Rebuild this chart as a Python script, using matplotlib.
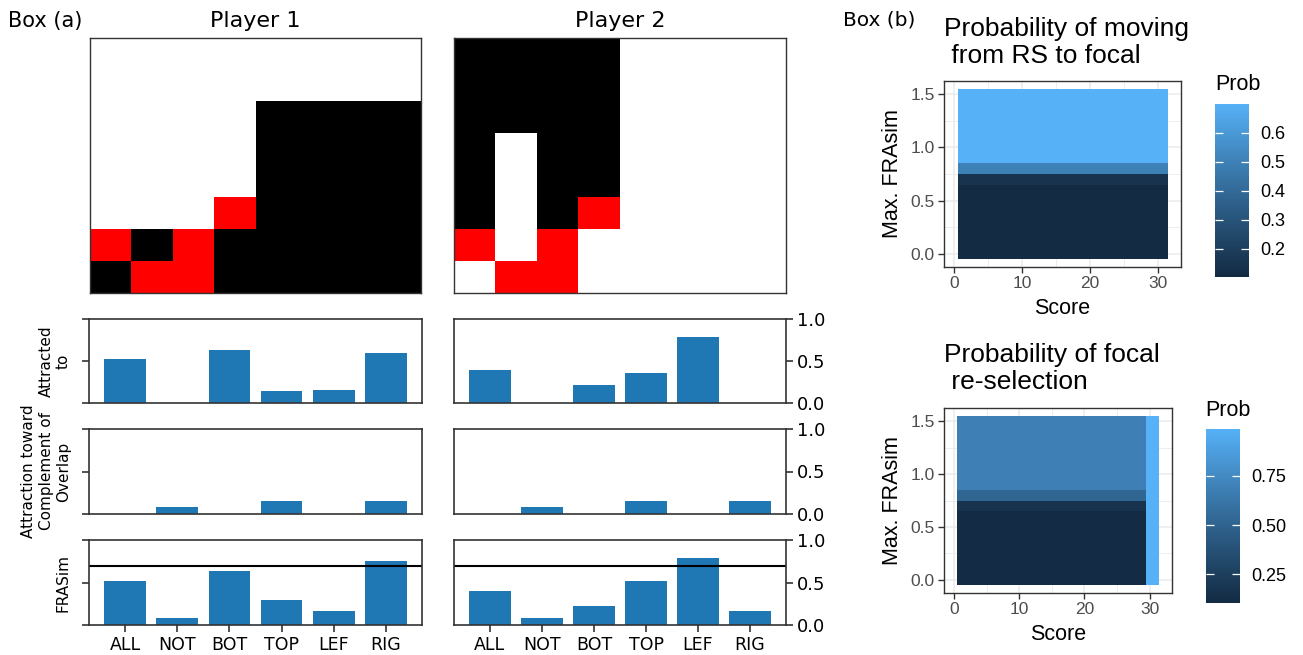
import numpy as np
import matplotlib
matplotlib.use("Agg")
import matplotlib.pyplot as plt
from matplotlib.colors import ListedColormap, Normalize
from matplotlib.cm import ScalarMappable

# ---------------- data ----------------
# grids: 0 = white, 1 = black, 2 = red (rows top to bottom)
grid_p1 = [
    [0, 0, 0, 0, 0, 0, 0, 0],
    [0, 0, 0, 0, 0, 0, 0, 0],
    [0, 0, 0, 0, 1, 1, 1, 1],
    [0, 0, 0, 0, 1, 1, 1, 1],
    [0, 0, 0, 0, 1, 1, 1, 1],
    [0, 0, 0, 2, 1, 1, 1, 1],
    [2, 1, 2, 1, 1, 1, 1, 1],
    [1, 2, 2, 1, 1, 1, 1, 1],
]
grid_p2 = [
    [1, 1, 1, 1, 0, 0, 0, 0],
    [1, 1, 1, 1, 0, 0, 0, 0],
    [1, 1, 1, 1, 0, 0, 0, 0],
    [1, 0, 1, 1, 0, 0, 0, 0],
    [1, 0, 1, 1, 0, 0, 0, 0],
    [1, 0, 1, 2, 0, 0, 0, 0],
    [2, 0, 2, 0, 0, 0, 0, 0],
    [0, 2, 2, 0, 0, 0, 0, 0],
]

categories = ['ALL', 'NOT', 'BOT', 'TOP', 'LEF', 'RIG']
p1_attracted = [0.52, 0.0, 0.63, 0.14, 0.16, 0.59]
p1_complement = [0.0, 0.08, 0.0, 0.155, 0.0, 0.155]
p1_frasim = [0.52, 0.08, 0.635, 0.30, 0.163, 0.754]
p2_attracted = [0.39, 0.0, 0.214, 0.36, 0.786, 0.0]
p2_complement = [0.0, 0.08, 0.0, 0.155, 0.0, 0.155]
p2_frasim = [0.397, 0.08, 0.218, 0.52, 0.79, 0.159]
frasim_threshold = 0.69

scores = [1, 2, 3, 4, 5, 6, 7, 8, 9, 10, 11, 12, 13, 14, 15, 16,
          17, 18, 19, 20, 21, 22, 23, 24, 25, 26, 27, 28, 29, 30, 31]
max_frasim = [0.0, 0.1, 0.2, 0.3, 0.4, 0.5, 0.6, 0.7, 0.8, 0.9,
              1.0, 1.1, 1.2, 1.3, 1.4, 1.5]
# probability by Max. FRAsim row (same for every score)
prob_move = [0.10, 0.10, 0.10, 0.10, 0.10, 0.10, 0.10, 0.145, 0.50,
             0.70, 0.70, 0.70, 0.70, 0.70, 0.70, 0.70]
prob_move_range = (0.102, 0.699)
# focal re-selection: rows for scores 1..29, high value for scores 30, 31
prob_resel = [0.11, 0.11, 0.11, 0.11, 0.11, 0.11, 0.11, 0.165, 0.52,
              0.69, 0.69, 0.69, 0.69, 0.69, 0.69, 0.69]
resel_high_scores = [30, 31]
resel_high_value = 0.988
prob_resel_range = (0.104, 0.988)

# ---------------- helpers ----------------
W, H = 1303, 655
fig = plt.figure(figsize=(W / 100, H / 100), dpi=100)


def add_ax(x0, y0, x1, y1):
    return fig.add_axes([x0 / W, 1 - y1 / H, (x1 - x0) / W, (y1 - y0) / H])


def srgb_to_lab(rgb):
    rgb = np.asarray(rgb, float)
    lin = np.where(rgb <= 0.04045, rgb / 12.92, ((rgb + 0.055) / 1.055) ** 2.4)
    M = np.array([[0.4124564, 0.3575761, 0.1804375],
                  [0.2126729, 0.7151522, 0.0721750],
                  [0.0193339, 0.1191920, 0.9503041]])
    xyz = lin @ M.T / np.array([0.95047, 1.0, 1.08883])
    f = np.where(xyz > 0.008856, np.cbrt(xyz), 7.787 * xyz + 16 / 116)
    return np.stack([116 * f[..., 1] - 16, 500 * (f[..., 0] - f[..., 1]),
                     200 * (f[..., 1] - f[..., 2])], axis=-1)


def lab_to_srgb(lab):
    L, a, b = lab[..., 0], lab[..., 1], lab[..., 2]
    fy = (L + 16) / 116
    fx = fy + a / 500
    fz = fy - b / 200
    f = np.stack([fx, fy, fz], axis=-1)
    xyz = np.where(f ** 3 > 0.008856, f ** 3, (f - 16 / 116) / 7.787)
    xyz = xyz * np.array([0.95047, 1.0, 1.08883])
    Minv = np.array([[3.2404542, -1.5371385, -0.4985314],
                     [-0.9692660, 1.8760108, 0.0415560],
                     [0.0556434, -0.2040259, 1.0572252]])
    lin = xyz @ Minv.T
    lin = np.clip(lin, 0, 1)
    rgb = np.where(lin <= 0.0031308, 12.92 * lin, 1.055 * lin ** (1 / 2.4) - 0.055)
    return np.clip(rgb, 0, 1)


lo = srgb_to_lab(np.array([0x13, 0x2B, 0x43]) / 255)
hi = srgb_to_lab(np.array([0x56, 0xB1, 0xF7]) / 255)
tt = np.linspace(0, 1, 256)[:, None]
gg_cmap = ListedColormap(lab_to_srgb(lo + (hi - lo) * tt))

# ---------------- Box (a) ----------------
grid_cmap = ListedColormap(['white', 'black', 'red'])
dv = 'DejaVu Sans'
fig.text(8 / W, 1 - 26.7 / H, 'Box (a)', fontsize=15, family=dv, va='baseline', ha='left')

for gx0, gx1, grid, title in [(90, 421, grid_p1, 'Player 1'), (454, 786, grid_p2, 'Player 2')]:
    ax = add_ax(gx0, 38, gx1, 293)
    ax.imshow(np.array(grid), cmap=grid_cmap, vmin=0, vmax=2, aspect='auto',
              interpolation='nearest')
    ax.set_xticks([])
    ax.set_yticks([])
    for s in ax.spines.values():
        s.set_linewidth(1.0)
        s.set_color('#333333')
    fig.text((gx0 + gx1) / 2 / W, 1 - 27.3 / H, title, fontsize=16, family=dv,
             ha='center', va='baseline')

rows = [(319, 403), (429, 514), (540, 625)]
ylabels = ['Attracted\nto', 'Attraction toward\nComplement of\nOverlap', 'FRASim']
series = {
    'p1': [p1_attracted, p1_complement, p1_frasim],
    'p2': [p2_attracted, p2_complement, p2_frasim],
}
xpos = np.arange(len(categories))
for player, (bx0, bx1) in [('p1', (89, 422)), ('p2', (454, 786))]:
    for i, (ry0, ry1) in enumerate(rows):
        ax = add_ax(bx0, ry0, bx1, ry1)
        ax.bar(xpos, series[player][i], width=0.8, color='#1f77b4')
        ax.set_xlim(-0.69, 5.69)
        ax.set_ylim(0, 1.0)
        ax.set_yticks([0, 0.5, 1.0])
        for s in ax.spines.values():
            s.set_linewidth(1.2)
            s.set_color('#333333')
        if i == 2:
            ax.axhline(frasim_threshold, color='black', lw=1.5)
            ax.set_xticks(xpos)
            ax.set_xticklabels(categories, fontsize=12.5, family=dv)
            ax.tick_params(axis='x', length=5, width=1.2, color='#333333', pad=3)
        else:
            ax.set_xticks([])
        if player == 'p1':
            ax.tick_params(axis='y', labelleft=False, length=5, width=1.2,
                           color='#333333')
            ax.set_ylabel(ylabels[i], fontsize=11, family=dv, labelpad=8)
        else:
            ax.yaxis.tick_right()
            ax.tick_params(axis='y', length=5, width=1.2, color='#333333',
                           labelsize=13, pad=3)
            ax.set_yticklabels(['0.0', '0.5', '1.0'])

# ---------------- Box (b) ----------------
lib = 'Liberation Sans'
fig.text(843 / W, 1 - 26 / H, 'Box (b)', fontsize=14.5, family=dv, va='baseline', ha='left')

sc = np.array(scores, float)
fr = np.array(max_frasim, float)
x_edges = np.concatenate([sc - 0.5, [sc[-1] + 0.5]])
y_edges = np.concatenate([fr - 0.05, [fr[-1] + 0.05]])

Z_move = np.repeat(np.array(prob_move)[:, None], len(scores), axis=1)
Z_resel = np.repeat(np.array(prob_resel)[:, None], len(scores), axis=1)
for s_hi in resel_high_scores:
    Z_resel[:, scores.index(s_hi)] = resel_high_value

panels = [
    dict(box=(944, 81, 1181, 267), Z=Z_move, rng=prob_move_range,
         title='Probability of moving\n from RS to focal', title_base=36,
         cbar=(1215, 104, 1249, 277), cticks=[0.2, 0.3, 0.4, 0.5, 0.6], cfmt='%.1f',
         prob_y=85, prob_x=1215, xlab_y=308),
    dict(box=(944, 408, 1172, 593), Z=Z_resel, rng=prob_resel_range,
         title='Probability of focal\n re-selection', title_base=362,
         cbar=(1206, 429, 1240, 603), cticks=[0.25, 0.5, 0.75], cfmt='%.2f',
         prob_y=410, prob_x=1205, xlab_y=634),
]

for p in panels:
    x0, y0, x1, y1 = p['box']
    ax = add_ax(x0, y0, x1, y1)
    norm = Normalize(vmin=p['rng'][0], vmax=p['rng'][1])
    ax.set_axisbelow(True)
    ax.set_xlim(-1.55, 33.45)
    ax.set_ylim(-0.125, 1.625)
    ax.set_xticks([0, 10, 20, 30])
    ax.set_xticks([5, 15, 25], minor=True)
    ax.set_yticks([0.0, 0.5, 1.0, 1.5])
    ax.set_yticks([0.25, 0.75, 1.25], minor=True)
    ax.set_yticklabels(['0.0', '0.5', '1.0', '1.5'])
    ax.grid(which='major', color='#EBEBEB', lw=1.1)
    ax.grid(which='minor', color='#EBEBEB', lw=0.6)
    ax.pcolormesh(x_edges, y_edges, p['Z'], cmap=gg_cmap, norm=norm,
                  shading='flat', zorder=2, edgecolors='none', antialiased=False)
    for s in ax.spines.values():
        s.set_color('#333333')
        s.set_linewidth(1.0)
    ax.tick_params(which='major', length=4.5, width=1.0, color='#333333',
                   labelcolor='#4D4D4D', labelsize=12.5, pad=2)
    ax.tick_params(which='minor', length=0)
    for lab in ax.get_xticklabels() + ax.get_yticklabels():
        lab.set_family(lib)
    t1, t2 = p['title'].split('\n')
    fig.text(x0 / W, 1 - p['title_base'] / H, t1, fontsize=19, family=lib,
             ha='left', va='baseline')
    fig.text(x0 / W, 1 - (p['title_base'] + 27) / H, t2, fontsize=19, family=lib,
             ha='left', va='baseline')
    fig.text(892 / W, 1 - (y0 + y1) / 2 / H, 'Max. FRAsim', fontsize=15.5, family=lib,
             rotation=90, ha='center', va='center')
    fig.text((x0 + x1) / 2 / W, 1 - p['xlab_y'] / H, 'Score', fontsize=15.5, family=lib,
             ha='center', va='center')

    cx0, cy0, cx1, cy1 = p['cbar']
    cax = add_ax(cx0, cy0, cx1, cy1)
    cb = fig.colorbar(ScalarMappable(norm=norm, cmap=gg_cmap), cax=cax,
                      ticks=p['cticks'], format=p['cfmt'])
    cb.outline.set_visible(False)
    cax.tick_params(direction='in', length=5.5, width=0.9, color='white',
                    left=True, right=True, labelleft=False, labelright=True,
                    labelsize=13, labelcolor='black', pad=8)
    for lab in cax.get_yticklabels():
        lab.set_family(lib)
    fig.text(p['prob_x'] / W, 1 - p['prob_y'] / H, 'Prob', fontsize=15.5, family=lib,
             ha='left', va='center')

fig.savefig('out.png', dpi=100)
